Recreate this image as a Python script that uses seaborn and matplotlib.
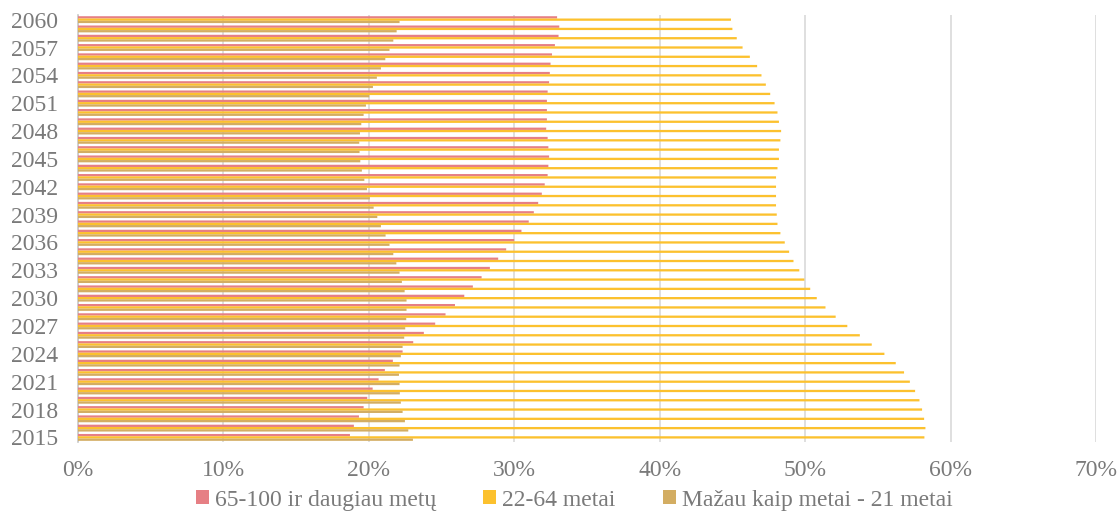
import matplotlib
matplotlib.use("Agg")
import matplotlib.pyplot as plt
import pandas as pd
import seaborn as sns

years = list(range(2015, 2061))

# Share of population by age group, %
senior_65 = [18.71, 18.98, 19.33, 19.65, 19.90, 20.27, 20.68, 21.11, 21.66, 22.33,
             23.06, 23.79, 24.57, 25.28, 25.93, 26.57, 27.16, 27.76, 28.33, 28.90,
             29.45, 30.00, 30.50, 31.00, 31.35, 31.65, 31.90, 32.10, 32.30, 32.35,
             32.40, 32.35, 32.30, 32.20, 32.25, 32.25, 32.25, 32.30, 32.40, 32.45,
             32.50, 32.60, 32.80, 33.05, 33.10, 32.95]
working_22_64 = [58.20, 58.27, 58.18, 58.04, 57.86, 57.56, 57.20, 56.80, 56.23, 55.45,
                 54.58, 53.76, 52.90, 52.10, 51.40, 50.80, 50.35, 49.95, 49.60, 49.20,
                 48.90, 48.60, 48.30, 48.10, 48.05, 48.00, 48.00, 48.00, 48.00, 48.10,
                 48.20, 48.20, 48.30, 48.35, 48.20, 48.10, 47.90, 47.60, 47.30, 47.00,
                 46.70, 46.20, 45.70, 45.30, 45.00, 44.90]
young_0_21 = [23.04, 22.72, 22.49, 22.33, 22.21, 22.14, 22.12, 22.08, 22.12, 22.21,
              22.33, 22.44, 22.51, 22.58, 22.60, 22.60, 22.47, 22.28, 22.12, 21.90,
              21.69, 21.43, 21.16, 20.84, 20.59, 20.34, 20.08, 19.88, 19.70, 19.53,
              19.42, 19.37, 19.35, 19.40, 19.49, 19.65, 19.81, 20.04, 20.29, 20.56,
              20.84, 21.14, 21.43, 21.69, 21.92, 22.12]

series_names = ["65-100 ir daugiau metų", "22-64 metai", "Mažau kaip metai - 21 metai"]
series_colors = ["#E67F84", "#FCC12E", "#D3AD62"]
x_ticks = [0, 10, 20, 30, 40, 50, 60, 70]

rows = []
for i, y in enumerate(years):
    for name, vals in zip(series_names, [senior_65, working_22_64, young_0_21]):
        rows.append({"Metai": str(y), "Grupė": name, "Dalis": vals[i]})
df = pd.DataFrame(rows)

sns.set_theme(style="white")
plt.rcParams["font.family"] = ["Liberation Serif", "DejaVu Serif"]
text_color = "#7a7a7a"

fig = plt.figure(figsize=(11.19, 5.14), dpi=100)
ax = fig.add_axes([0.0695, 0.140, 0.9100, 0.8308])

order = [str(y) for y in reversed(years)]
sns.barplot(data=df, y="Metai", x="Dalis", hue="Grupė", order=order,
            hue_order=series_names, palette=series_colors, saturation=1,
            orient="h", width=0.74, linewidth=0, errorbar=None, ax=ax, zorder=3)

# thin bars: keep sub-pixel heights instead of snapping to the pixel grid
for patch in ax.patches:
    patch.set_snap(False)

ax.set_xlim(0, 70)
ax.set_xticks(x_ticks)
ax.set_xticklabels([f"{t}%" for t in x_ticks])
labelled = [str(y) for y in range(2060, 2014, -3)]
ax.set_yticks([order.index(l) for l in labelled])
ax.set_yticklabels(labelled)
ax.set_xlabel("")
ax.set_ylabel("")

ax.grid(axis="x", color="#d9d9d9", linewidth=1.2, zorder=0)
ax.grid(axis="y", visible=False)
for side in ["top", "right", "bottom"]:
    ax.spines[side].set_visible(False)
ax.spines["left"].set_color("#c8c8c8")
ax.spines["left"].set_linewidth(1.2)
ax.tick_params(axis="both", length=0, labelsize=17, labelcolor=text_color)
ax.tick_params(axis="x", pad=13)
ax.tick_params(axis="y", pad=14)

ax.legend_.remove()
handles, labels = ax.get_legend_handles_labels()
leg = fig.legend(handles, labels, loc="center", bbox_to_anchor=(0.513, 0.027),
                 ncol=3, frameon=False, fontsize=17, handlelength=0.55,
                 handleheight=0.55, handletextpad=0.25, columnspacing=2.0,
                 borderaxespad=0)
for t in leg.get_texts():
    t.set_color(text_color)

fig.savefig("out.png", dpi=100)
